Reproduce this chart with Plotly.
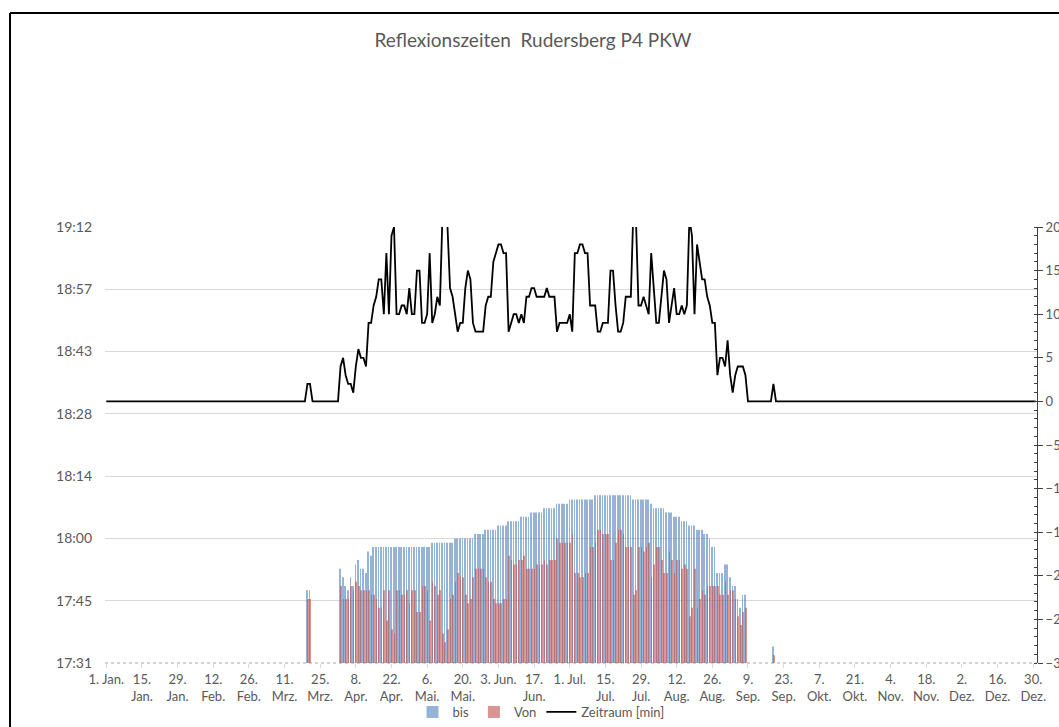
import plotly.graph_objects as go

# ---------------- data ----------------
# day index 0 = 1. Jan. (leap year, 366 days)
n_days = 366
tick_days = [0, 14, 28, 42, 56, 70, 84, 98, 112, 126, 140, 154, 168, 182,
             196, 210, 224, 238, 252, 266, 280, 294, 308, 322, 336, 350, 364]
tick_text = ["1. Jan.", "15.<br>Jan.", "29.<br>Jan.", "12.<br>Feb.", "26.<br>Feb.",
             "11.<br>Mrz.", "25.<br>Mrz.", "8.<br>Apr.", "22.<br>Apr.", "6.<br>Mai.",
             "20.<br>Mai.", "3. Jun.", "17.<br>Jun.", "1. Jul.", "15.<br>Jul.",
             "29.<br>Jul.", "12.<br>Aug.", "26.<br>Aug.", "9.<br>Sep.", "23.<br>Sep.",
             "7.<br>Okt.", "21.<br>Okt.", "4.<br>Nov.", "18.<br>Nov.", "2.<br>Dez.",
             "16.<br>Dez.", "30.<br>Dez."]

# left axis (time of day) ticks, in minutes after midnight
time_tickvals = [1051.2, 1065.6, 1080.0, 1094.4, 1108.8, 1123.2, 1137.6, 1152.0]
time_ticktext = ["17:31", "17:45", "18:00", "18:14", "18:28", "18:43", "18:57", "19:12"]

# days with reflection (minutes after 17:00)
early_days = [79, 80]
early_bis = [48, 48]
early_von = [46, 46]
early_zeit = [2, 2]

main_first_day = 92   # values below run day 92 .. day 251
bis_main = [53, 51, 49, 48, 51, 49, 54, 55, 53, 53,
            52, 57, 56, 58, 58, 58, 58, 58, 58, 58,
            58, 58, 58, 58, 58, 58, 58, 58, 58, 58,
            58, 58, 58, 58, 58, 58, 59, 59, 59, 59,
            59, 59, 59, 59, 59, 60, 60, 60, 60, 60,
            60, 60, 60, 61, 61, 61, 61, 62, 62, 62,
            62, 62, 63, 63, 63, 63, 64, 64, 64, 64,
            64, 65, 65, 65, 65, 66, 66, 66, 66, 66,
            67, 67, 67, 67, 67, 68, 68, 68, 68, 68,
            69, 69, 69, 69, 69, 69, 69, 69, 69, 69,
            70, 70, 70, 70, 70, 70, 70, 70, 70, 70,
            70, 70, 70, 70, 70, 69, 69, 69, 69, 69,
            69, 69, 68, 67, 67, 67, 67, 67, 66, 66,
            66, 65, 65, 65, 64, 64, 64, 63, 63, 63,
            62, 62, 62, 61, 61, 60, 58, 58, 52, 52,
            52, 54, 54, 51, 49, 49, 46, 44, 47, 47]
von_main = [49, 46, 46, 46, 49, 48, 50, 49, 48, 48,
            48, 48, 47, 47, 46, 44, 44, 48, 41, 48,
            39, 38, 48, 48, 47, 47, 48, 45, 48, 48,
            43, 43, 49, 49, 48, 41, 50, 49, 47, 48,
            38, 36, 39, 46, 47, 50, 52, 51, 51, 47,
            45, 46, 51, 53, 53, 53, 53, 51, 50, 50,
            46, 45, 45, 45, 46, 46, 56, 55, 54, 54,
            55, 55, 56, 53, 53, 53, 53, 54, 54, 54,
            55, 54, 55, 55, 55, 60, 59, 59, 59, 59,
            59, 61, 52, 52, 51, 51, 52, 52, 58, 58,
            59, 62, 62, 61, 61, 61, 55, 55, 59, 62,
            62, 61, 58, 58, 58, 47, 48, 58, 58, 57,
            58, 59, 51, 54, 58, 58, 55, 52, 52, 57,
            55, 52, 55, 55, 53, 54, 53, 42, 44, 53,
            44, 46, 48, 47, 49, 49, 49, 49, 49, 47,
            47, 50, 47, 48, 48, 46, 42, 40, 43, 44]
zeit_main = [4, 5, 3, 2, 2, 1, 4, 6, 5, 5,
             4, 9, 9, 11, 12, 14, 14, 10, 17, 10,
             19, 20, 10, 10, 11, 11, 10, 13, 10, 10,
             15, 15, 9, 9, 10, 17, 9, 10, 12, 11,
             21, 23, 20, 13, 12, 10, 8, 9, 9, 13,
             15, 14, 9, 8, 8, 8, 8, 11, 12, 12,
             16, 17, 18, 18, 17, 17, 8, 9, 10, 10,
             9, 10, 9, 12, 12, 13, 13, 12, 12, 12,
             12, 13, 12, 12, 12, 8, 9, 9, 9, 9,
             10, 8, 17, 17, 18, 18, 17, 17, 11, 11,
             11, 8, 8, 9, 9, 9, 15, 15, 11, 8,
             8, 9, 12, 12, 12, 22, 21, 11, 11, 12,
             11, 10, 17, 13, 9, 9, 12, 15, 14, 9,
             11, 13, 10, 10, 11, 10, 11, 21, 19, 10,
             18, 16, 14, 14, 12, 11, 9, 9, 3, 5,
             5, 4, 7, 3, 1, 3, 4, 4, 4, 3]

late_days = [262]
late_bis = [35]
late_von = [33]
late_zeit = [2]

# ---------------- assemble ----------------
main_days = list(range(main_first_day, main_first_day + len(bis_main)))
bar_days = early_days + main_days + late_days
bis_all = [1020 + v for v in early_bis + bis_main + late_bis]
von_all = [1020 + v for v in early_von + von_main + late_von]

zeit_full = [0] * n_days
for d, v in zip(early_days + main_days + late_days, early_zeit + zeit_main + late_zeit):
    zeit_full[d] = v

FONT = "Lato"
GREY = "#595959"

fig = go.Figure()
fig.add_trace(go.Bar(x=bar_days, y=bis_all, name="bis", marker_color="#4F81BD",
                     marker_line_width=0, opacity=0.6))
fig.add_trace(go.Bar(x=bar_days, y=von_all, name="Von", marker_color="#C0504D",
                     marker_line_width=0, opacity=0.6))
fig.add_trace(go.Scatter(x=list(range(n_days)), y=zeit_full, name="Zeitraum [min]",
                         mode="lines", line=dict(color="black", width=1.8),
                         yaxis="y2"))

PL, PR, PT, PB = 105, 1037, 227, 663
W, H = 1059, 727

def px_x(p):
    return (p - PL) / (PR - PL)

def px_y(p):
    return (PB - p) / (PB - PT)

fig.update_layout(
    width=W, height=H,
    margin=dict(l=PL, r=W - PR, t=PT, b=H - PB, autoexpand=False),
    paper_bgcolor="white", plot_bgcolor="white",
    barmode="group", bargap=0.45, bargroupgap=0,
    font=dict(family=FONT, size=13, color=GREY),
    title=dict(text="Reflexionszeiten  Rudersberg P4 PKW",
               x=533 / W, xref="container", xanchor="center",
               y=1 - 40 / H, yref="container", yanchor="middle",
               font=dict(family=FONT, size=19, color=GREY)),
    legend=dict(orientation="h", x=541 / W, xref="container", xanchor="center",
                y=1 - 712 / H, yref="container", yanchor="middle",
                font=dict(family=FONT, size=13, color=GREY),
                bgcolor="rgba(0,0,0,0)", borderwidth=0),
    xaxis=dict(range=[-0.5, n_days - 0.5], tickmode="array", tickvals=tick_days,
               ticktext=tick_text, tickangle=0, ticks="outside", ticklen=4,
               tickcolor="#D9D9D9", showline=False,
               showgrid=False, zeroline=False, automargin=False,
               tickfont=dict(family=FONT, size=13, color=GREY)),
    yaxis=dict(range=[1051.2, 1152], tickmode="array", tickvals=time_tickvals,
               ticktext=time_ticktext, showgrid=True, gridcolor="#D9D9D9",
               gridwidth=1, zeroline=False, ticks="", showline=False,
               ticklabelstandoff=12, automargin=False,
               tickfont=dict(family=FONT, size=14, color=GREY)),
    yaxis2=dict(range=[-30, 20], dtick=5, tick0=0, overlaying="y", side="right",
                showgrid=False, zeroline=False, showline=True, linecolor="#404040",
                ticks="outside", ticklen=5, tickcolor="#404040", automargin=False,
                minor=dict(dtick=1, ticks="inside", ticklen=3, tickcolor="#404040"),
                tickfont=dict(family=FONT, size=13, color=GREY)),
    shapes=[
        # dotted baseline of the category axis
        dict(type="line", xref="paper", yref="paper", x0=0, x1=1, y0=0, y1=0,
             line=dict(color="#A6A6A6", width=1.2, dash="dot"), layer="below"),
        # outer frame of the screenshot (top and left edge)
        dict(type="line", xref="paper", yref="paper", x0=px_x(10), x1=px_x(1059),
             y0=px_y(13), y1=px_y(13), line=dict(color="black", width=2)),
        dict(type="line", xref="paper", yref="paper", x0=px_x(10), x1=px_x(10),
             y0=px_y(13), y1=px_y(730), line=dict(color="black", width=2)),
    ],
)

fig.write_html(
    "out.html",
    config={"displayModeBar": False},
    post_script=("document.documentElement.style.margin='0px';"
                 "document.documentElement.style.overflow='hidden';"
                 "document.body.style.margin='0px';"
                 "document.body.style.overflow='hidden';"),
)
